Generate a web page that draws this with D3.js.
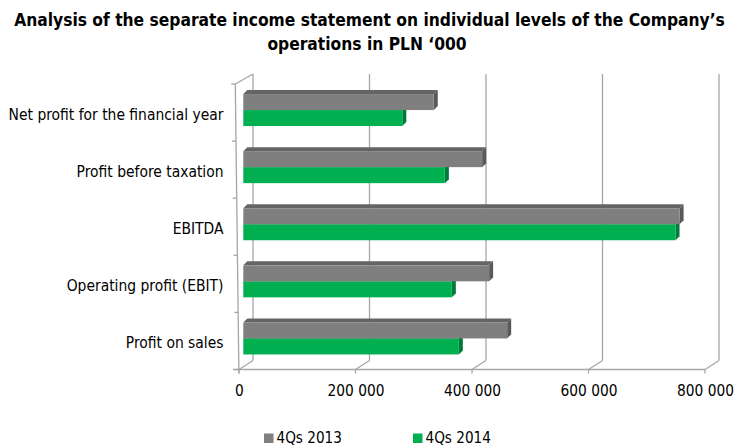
<!DOCTYPE html>
<html><head><meta charset="utf-8">
<script src="https://cdn.jsdelivr.net/npm/d3@7"></script>
<style>body{margin:0;background:#fff}svg{display:block}</style>
</head><body>
<svg id="c" width="734" height="446"></svg>
<script>
const categories = ["Net profit for the financial year","Profit before taxation","EBITDA","Operating profit (EBIT)","Profit on sales"];
const values2013 = [327000, 410000, 749000, 422000, 453000];
const values2014 = [273000, 346000, 742000, 358000, 370000];
const seriesNames = ["4Qs 2013", "4Qs 2014"];
const xTicks = [0, 200000, 400000, 600000, 800000];
const titleLines = ["Analysis of the separate income statement on individual levels of the Company\u2019s", "operations in PLN \u2018000"];

const FONT = "'DejaVu Sans Condensed', 'DejaVu Sans', sans-serif";
const svg = d3.select("#c");
const x = d3.scaleLinear().domain([0, 800000]).range([239, 705]);
const y = d3.scaleBand().domain(categories).range([84, 369.5]);
const fmt = v => d3.format(",")(v).replace(/,/g, " ");
const back = {dx: 14, dy: -9};
const wallTop = 74;
const floorY = 369.5;
const grid = "#A6A6A6";

function fit(sel, target) {
  const w = sel.node().getComputedTextLength();
  const fs = parseFloat(sel.attr("font-size"));
  return fs * target / w;
}

// back wall gridlines
svg.append("g").selectAll("line").data(xTicks).join("line")
  .attr("x1", d => x(d) + back.dx).attr("x2", d => x(d) + back.dx)
  .attr("y1", wallTop).attr("y2", floorY + back.dy)
  .attr("stroke", grid).attr("stroke-width", 1.3);
// floor diagonals
svg.append("g").selectAll("line").data(xTicks).join("line")
  .attr("x1", d => x(d)).attr("x2", d => x(d) + back.dx)
  .attr("y1", floorY).attr("y2", floorY + back.dy)
  .attr("stroke", grid).attr("stroke-width", 1.3);
// front axis line and ticks
svg.append("line").attr("x1", 233).attr("x2", x(800000)).attr("y1", floorY).attr("y2", floorY)
  .attr("stroke", grid).attr("stroke-width", 1.3);
svg.append("g").selectAll("line").data(xTicks).join("line")
  .attr("x1", d => x(d)).attr("x2", d => x(d)).attr("y1", floorY).attr("y2", floorY + 4)
  .attr("stroke", grid).attr("stroke-width", 1.3);
// left wall
const leftX = yy => 235.3 + (yy - 84) / (floorY - 84) * 3.6;
svg.append("line").attr("x1", leftX(84)).attr("y1", 84).attr("x2", leftX(floorY)).attr("y2", floorY + 4)
  .attr("stroke", grid).attr("stroke-width", 1.3);
svg.append("line").attr("x1", leftX(84)).attr("y1", 84).attr("x2", x(0) + back.dx).attr("y2", wallTop)
  .attr("stroke", grid).attr("stroke-width", 1.3);
const bounds = categories.map(c => y(c)).concat([floorY]);
svg.append("g").selectAll("line").data(bounds).join("line")
  .attr("x1", d => leftX(d) - 4).attr("x2", d => leftX(d)).attr("y1", d => d).attr("y2", d => d)
  .attr("stroke", grid).attr("stroke-width", 1.3);

// bars
const off = 4.3, dep = 4, bh = 16, cShift = -2.5;
const series = [
  {vals: values2014, front: "#00B050", top: "#00893F", side: "#007A38", pos: 0},
  {vals: values2013, front: "#7F7F7F", top: "#646464", side: "#595959", pos: -1}
];
series.forEach(s => {
  const g = svg.append("g");
  categories.forEach((c, i) => {
    const c0 = y(c) + y.bandwidth() / 2 + cShift;
    const top = c0 + s.pos * bh, bot = top + bh;
    const x0 = x(0) + off, x1 = x(s.vals[i]) + off;
    g.append("path").attr("d", `M${x0},${top}L${x0+dep},${top-dep}L${x1+dep},${top-dep}L${x1},${top}Z`).attr("fill", s.top);
    g.append("path").attr("d", `M${x1},${top}L${x1+dep},${top-dep}L${x1+dep},${bot-dep}L${x1},${bot}Z`).attr("fill", s.side);
    g.append("rect").attr("x", x0).attr("y", top).attr("width", x1 - x0).attr("height", bh).attr("fill", s.front);
  });
});

// category labels
const cl = svg.append("g").selectAll("text").data(categories).join("text")
  .attr("x", 223.5).attr("y", d => y(d) + y.bandwidth() / 2 + 2.5)
  .attr("text-anchor", "end").attr("dominant-baseline", "middle")
  .attr("font-family", FONT).attr("font-size", 14).attr("fill", "#000").text(d => d);
const cfs = fit(d3.select(cl.nodes()[0]), 215);
cl.attr("font-size", cfs);

// x tick labels
const tl = svg.append("g").selectAll("text").data(xTicks).join("text")
  .attr("x", d => x(d) + 0.5).attr("y", 396).attr("text-anchor", "middle")
  .attr("font-family", FONT).attr("font-size", 14).attr("fill", "#000").text(fmt);
const tfs = fit(d3.select(tl.nodes()[1]), 57);
tl.attr("font-size", tfs);

// title
const t1 = svg.append("text").attr("x", 369.5).attr("y", 26).attr("text-anchor", "middle")
  .attr("font-family", FONT).attr("font-weight", "bold").attr("font-size", 16).text(titleLines[0]);
const tfs1 = fit(t1, 711);
t1.attr("font-size", tfs1);
svg.append("text").attr("x", 367).attr("y", 50).attr("text-anchor", "middle")
  .attr("font-family", FONT).attr("font-weight", "bold").attr("font-size", tfs1).text(titleLines[1]);

// legend
const legend = [{name: seriesNames[0], color: "#7F7F7F", x: 264}, {name: seriesNames[1], color: "#00B050", x: 413}];
const lg = svg.append("g").selectAll("g").data(legend).join("g");
lg.append("rect").attr("x", d => d.x).attr("y", 433.5).attr("width", 9.5).attr("height", 9.5).attr("fill", d => d.color);
const lt = lg.append("text").attr("x", d => d.x + 12.5).attr("y", 442.5)
  .attr("font-family", FONT).attr("font-size", 14).attr("fill", "#000").text(d => d.name);
const lfs = fit(d3.select(lt.nodes()[0]), 65.5);
lt.attr("font-size", lfs);
</script>
</body></html>
